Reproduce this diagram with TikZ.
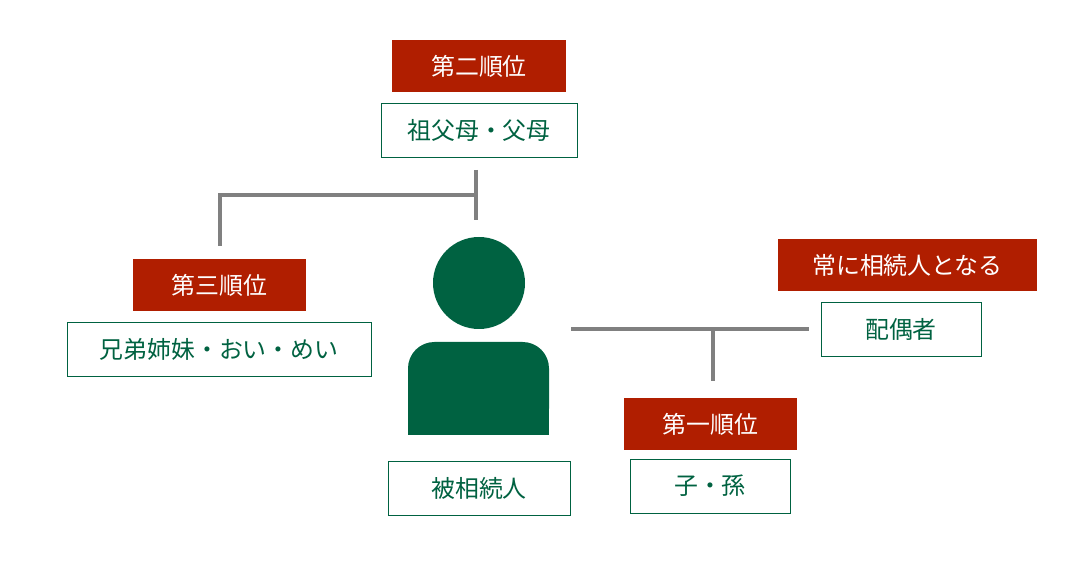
\documentclass[tikz,border=0pt]{standalone}
\usepackage{fontspec}
\setmainfont{Noto Sans CJK JP}
\definecolor{rankred}{HTML}{B01E00}
\definecolor{heirgreen}{HTML}{006241}
\definecolor{linegray}{HTML}{808080}
\begin{document}
\begin{tikzpicture}[
	x=0.02cm,
	y=-0.02cm,
	rank/.style={fill=rankred, text=white, inner sep=0pt},
	heir/.style={draw=heirgreen, text=heirgreen, fill=white, inner sep=0pt, line width=0.4pt},
	link/.style={draw=linegray, line width=1.9pt}] {

\useasboundingbox (0,0) rectangle (1092,563);
\fontsize{13.6}{16}\selectfont

% second rank (top)
\node[rank, minimum width=174*0.02cm, minimum height=52*0.02cm] (rank2) at (479,66) {第二順位};
\node[heir, minimum width=196*0.02cm, minimum height=54*0.02cm] (parents) at (479,130) {祖父母・父母};

% third rank (left)
\node[rank, minimum width=173*0.02cm, minimum height=52*0.02cm] (rank3) at (219.5,285) {第三順位};
\node[heir, minimum width=304*0.02cm, minimum height=54*0.02cm] (siblings) at (219,349) {兄弟姉妹・おい・めい};

% deceased
\fill[heirgreen] (479,283) circle (46);
\fill[heirgreen, rounded corners=15] (408,342) rectangle (549,435);
\fill[heirgreen] (408,400) rectangle (549,435);
\node[heir, minimum width=182*0.02cm, minimum height=54*0.02cm] (deceased) at (479,488) {被相続人};

% spouse (right)
\node[rank, minimum width=259*0.02cm, minimum height=52*0.02cm] (always) at (907.5,265) {常に相続人となる};
\node[heir, minimum width=160*0.02cm, minimum height=54*0.02cm] (spouse) at (901,329) {配偶者};

% first rank (bottom right)
\node[rank, minimum width=173*0.02cm, minimum height=52*0.02cm] (rank1) at (710.5,424) {第一順位};
\node[heir, minimum width=160*0.02cm, minimum height=54*0.02cm] (children) at (710,486) {子・孫};

% links
\coordinate (upA) at (476,170);
\coordinate (upB) at (476,220);
\coordinate (upJ) at (476,195);
\coordinate (leftE) at (220,246);
\coordinate (rightA) at (571,329);
\coordinate (rightB) at (809,329);
\coordinate (rightJ) at (713,329);
\coordinate (downE) at (713,381);
\draw[link] (upA) -- (upB);
\draw[link] (upJ) -| (leftE);
\draw[link] (rightA) -- (rightB);
\draw[link] (rightJ) -- (downE);
}\end{tikzpicture}
\end{document}
